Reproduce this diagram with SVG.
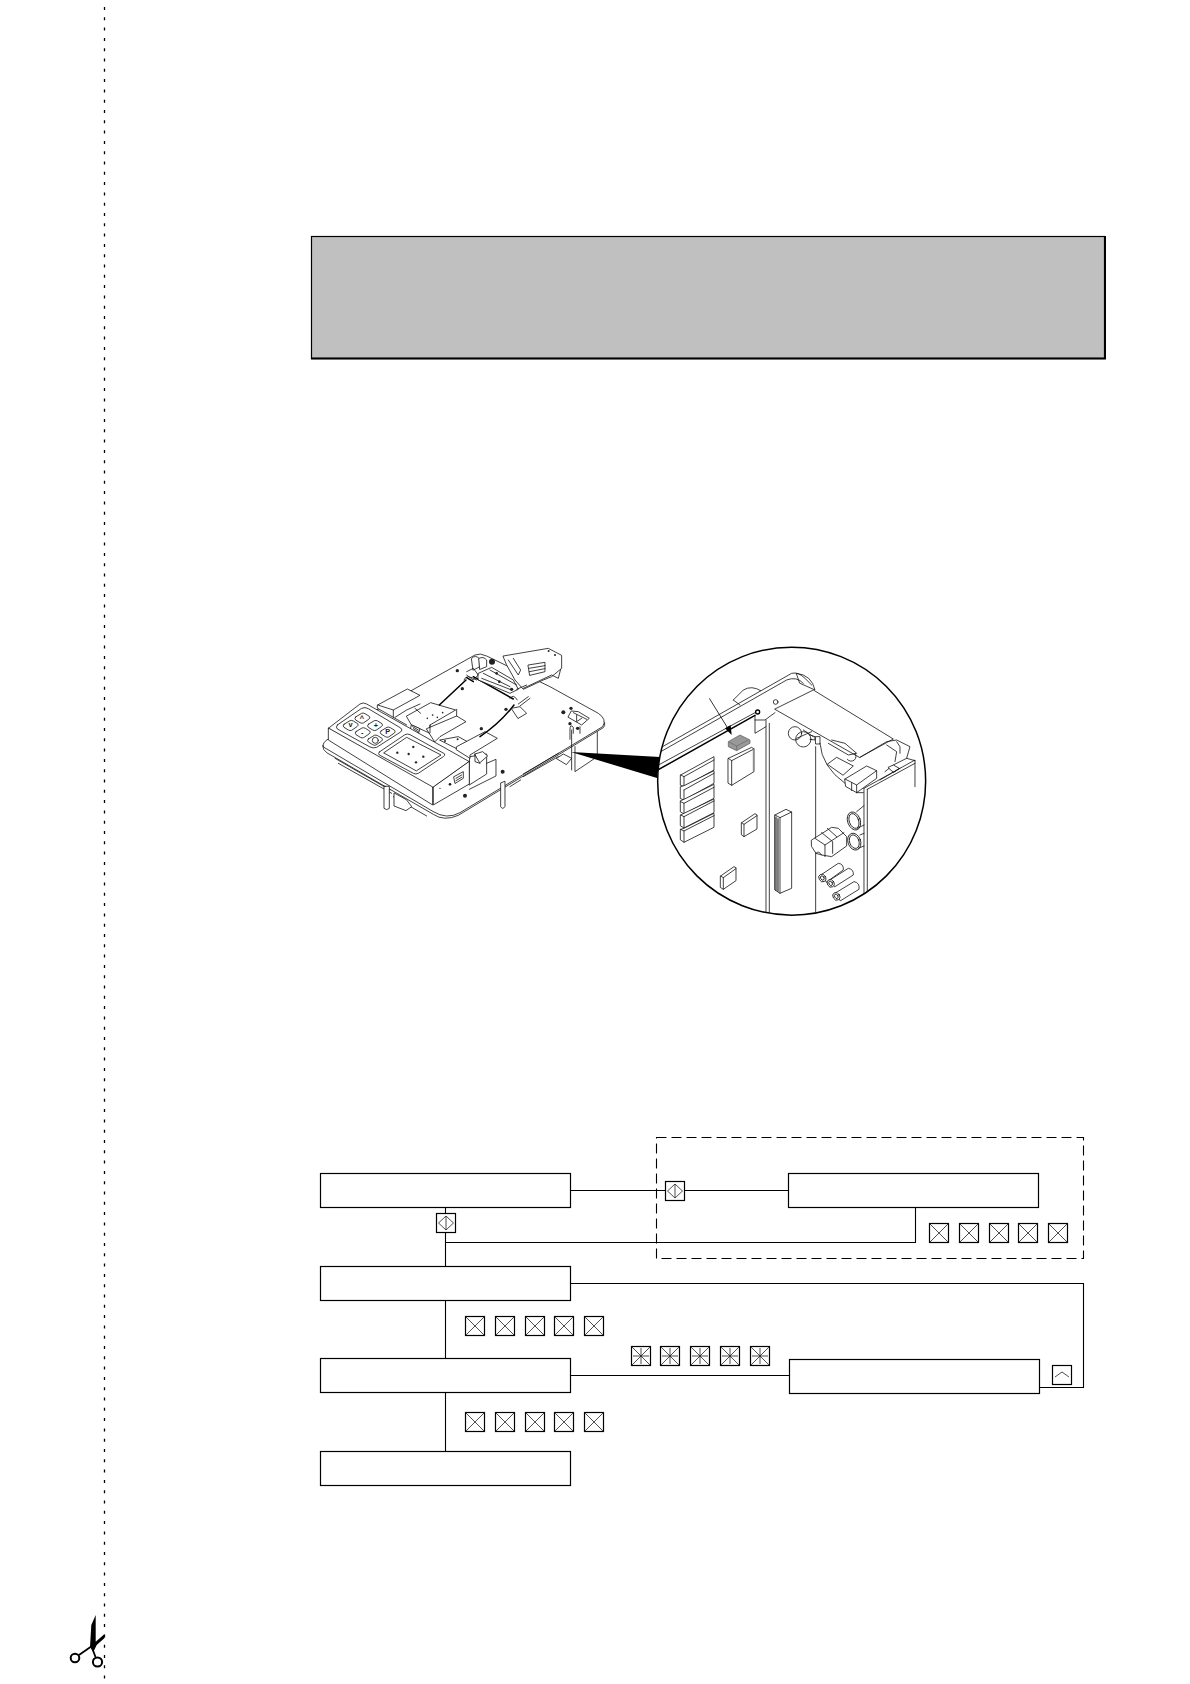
<svg xmlns="http://www.w3.org/2000/svg" width="1190" height="1684" viewBox="0 0 1190 1684">
<style>
.n{fill:#fff;stroke:#000;stroke-width:1.2}
.c{fill:none;stroke:#000;stroke-width:1.1}
.g{fill:none;stroke:#222;stroke-width:.8}
.m{fill:#fff;stroke:#111;stroke-width:2.4;stroke-linejoin:round;stroke-linecap:round}
.l{fill:none;stroke:#111;stroke-width:2.4;stroke-linejoin:round;stroke-linecap:round}
.h{fill:none;stroke:#000;stroke-width:4.5;stroke-linecap:round;stroke-linejoin:round}
.d{fill:#222}
.t{font-family:"Liberation Sans",Arial,sans-serif;font-size:22px;font-weight:bold;text-anchor:middle;fill:#222}
</style>
<defs>
<g id="x"><rect class="n" x=".5" y=".5" width="19" height="19"/><path class="g" d="M.5 .5L19.5 19.5M19.5 .5L.5 19.5"/></g>
<g id="s"><rect class="n" x=".5" y=".5" width="19" height="19"/><path class="g" d="M.5 .5L19.5 19.5M19.5 .5L.5 19.5M10 2V18M2 10H18"/></g>
<g id="v"><rect class="n" x=".5" y=".5" width="19" height="19"/><path class="g" d="M2.5 10L10 3L17.5 10L10 17ZM10 3V17"/></g>
</defs>
<path d="M104.5 7V1684" fill="none" stroke="#000" stroke-width="1.3" stroke-dasharray="3 7.3"/>
<g id="scissors">
<path d="M95.7 1615L91.3 1625L90 1647L93.3 1652L96.7 1645L104.3 1638.3V1634.3L95.7 1641.7Z" fill="#000"/>
<path d="M90.5 1647L79 1655M92.5 1649L95.5 1657" fill="none" stroke="#000" stroke-width="1.8"/>
<circle cx="75" cy="1658" r="4.3" fill="#fff" stroke="#000" stroke-width="2"/>
<circle cx="97.5" cy="1662" r="4.6" fill="#fff" stroke="#000" stroke-width="2"/>
</g>
<g id="notice"><rect x="311.5" y="236.5" width="793" height="122" fill="#c0c0c0" stroke="#000" stroke-width="1.2"/><path d="M311 358.5H1105V236" fill="none" stroke="#000" stroke-width="2"/></g>

<g id="machine" transform="translate(310 630) scale(.3333)">
<path class="m" d="M40 350Q36 338 55 327L200 240L495 75Q510 68 530 78L720 170L865 250Q892 268 878 290L450 548Q410 570 370 545Z"/>
<path class="l" d="M38 347Q38 360 50 368L370 553Q402 575 445 556L880 293Q886 288 884 278"/>
<path class="l" d="M75 385L240 480M85 400L245 490M250 500L350 558M640 432L745 370M600 470L632 450M640 440L745 380"/>
<path class="m" d="M222 470V535Q230 543 238 535V470Z"/>
<path class="m" d="M572 460V530Q578 540 585 530V455Z"/>
<path class="m" d="M252 490V528L288 542L305 530L290 510Z"/>
<path class="m" d="M740 385L760 372L785 385L770 403Z"/>
<path class="l" d="M785 300V420M795 350V425L862 380V305"/>
<path class="l" d="M780 328V300Q780 280 790 292V310M810 290V310"/>
<!-- rear boards -->
<path class="m" d="M203 225L292 177L330 196L250 240V262L203 235Z"/>
<path class="l" d="M250 240L203 225M255 262L290 240L330 222"/>
<path class="m" d="M290 258L362 218L437 240L360 285L360 310L305 285Z"/>
<path class="m" d="M350 296L440 258L468 275L390 320L375 335Z"/>
<path class="l" d="M250 262L290 285M315 235L332 250M360 285L360 308M440 258V238"/>
<circle class="d" cx="352" cy="265" r="2.5"/><circle class="d" cx="368" cy="255" r="2.5"/><circle class="d" cx="382" cy="262" r="2.5"/><circle class="d" cx="398" cy="248" r="2.5"/>
<path class="m" d="M480 380L530 372V432L478 465Z"/>
<path class="m" d="M495 372L518 365L533 378L510 398Z"/>
<path class="l" d="M495 372V395L510 400M530 400L558 388V438L478 478"/>
<path class="m" d="M390 330L445 320L472 335L440 355Z"/>
<path class="m" d="M440 350L525 305L562 325L480 375V385L440 360Z"/>
<path class="m" d="M305 285L330 296L325 312L302 300Z"/>
<path class="l" d="M308 290L325 300M310 296L326 306"/>
<!-- keypad housing -->
<path class="m" d="M55 295L150 222Q160 216 170 222L478 395L370 472Q362 474 355 470Z"/>
<path class="m" d="M55 295V330L368 525V472Z"/>
<path class="m" d="M370 472V525L478 462V395Z"/>
<path class="m" d="M82 285L155 235Q165 230 175 236L272 294Q280 300 272 306L200 352Q190 356 180 351L82 297Q76 291 82 285Z"/>
<g class="keys">
<path class="m" d="M137 261L155 250Q160 248 165 251L178 259Q182 264 176 268L160 279Q155 281 150 278L137 270Q132 266 137 261Z"/>
<path class="m" d="M175 283L193 272Q198 270 203 273L216 281Q220 286 214 290L198 301Q193 303 188 300L175 292Q170 288 175 283Z"/>
<path class="m" d="M213 303L231 292Q236 290 241 293L254 301Q258 306 252 310L236 321Q231 323 226 320L213 312Q208 308 213 303Z"/>
<path class="m" d="M102 283L120 272Q125 270 130 273L143 281Q147 286 141 290L125 301Q120 303 115 300L102 292Q97 288 102 283Z"/>
<path class="m" d="M138 305L156 294Q161 292 166 295L179 303Q183 308 177 312L161 323Q156 325 151 322L138 314Q133 310 138 305Z"/>
<path class="m" d="M175 327L193 316Q198 314 203 317L216 325Q220 330 214 334L198 345Q193 347 188 344L175 336Q170 332 175 327Z"/>
<circle class="l" cx="196" cy="331" r="9"/>
<text class="t" x="156" y="272">^</text><text class="t" x="198" y="293">+</text><text class="t" x="233" y="313">P</text><text class="t" x="122" y="292">v</text><text class="t" x="157" y="316">-</text>
</g>
<path class="m" d="M208 366L285 314Q292 310 300 314L403 371Q407 376 400 380L325 430Q318 434 310 430L208 375Q203 370 208 366Z"/>
<path class="l" d="M222 368L290 322L393 375L320 422Z"/>
<circle class="d" cx="262" cy="368" r="3.5"/><circle class="d" cx="310" cy="351" r="3.5"/><circle class="d" cx="296" cy="372" r="3.5"/><circle class="d" cx="340" cy="380" r="3.5"/><circle class="d" cx="318" cy="397" r="3.5"/>
<path class="h" d="M388 225L468 150M470 143L490 155M490 140L610 207M612 225Q570 280 510 320"/>
<path class="l" d="M462 150Q468 130 500 150M600 205Q610 190 622 210"/>
<!-- printer -->
<path class="m" d="M580 78L715 55L755 76V115L725 140L700 150L640 178L615 150L590 105Z"/>
<path class="l" d="M595 90L625 135L632 120L610 85M655 105L705 97V125L660 136ZM657 115L705 107M658 125L705 116M640 175L725 135L745 145L752 118"/>
<path class="m" d="M505 130L545 112L610 150L625 178L600 190L505 150Z"/>
<path class="l" d="M520 130L600 170M515 145L605 180M540 120L620 165"/>
<path class="m" d="M485 85Q497 72 510 88V110L490 120Z"/>
<path class="m" d="M507 85Q520 78 530 90V110L510 118Z"/>
<circle cx="546" cy="95" r="9" fill="#222"/>
<path class="l" d="M470 125L490 115L505 135L490 150L470 135M620 178L650 165M625 222L655 200M630 228L660 205"/>
<path class="m" d="M605 235L630 230L650 250L625 265Z"/>
<circle class="d" cx="560" cy="130" r="4"/><circle class="d" cx="568" cy="155" r="4"/><circle class="d" cx="605" cy="178" r="5"/><circle class="d" cx="716" cy="63" r="3"/><circle class="d" cx="735" cy="75" r="3"/>
<circle class="d" cx="442" cy="122" r="5"/><circle class="d" cx="457" cy="176" r="5"/><circle class="d" cx="588" cy="238" r="5"/><circle class="d" cx="514" cy="296" r="5"/><circle class="d" cx="405" cy="333" r="3"/><circle class="d" cx="443" cy="328" r="3"/><circle class="d" cx="578" cy="425" r="6"/><circle class="d" cx="465" cy="497" r="6"/><circle class="d" cx="420" cy="463" r="4"/><circle class="d" cx="390" cy="475" r="2"/><circle class="d" cx="760" cy="247" r="6"/><circle class="d" cx="783" cy="235" r="5"/><circle class="d" cx="780" cy="281" r="5"/><circle class="d" cx="803" cy="295" r="5"/>
<path class="l" d="M785 243L805 245L838 265L815 285L775 262ZM790 248L830 268M800 255V275L815 265"/>
<path class="l" d="M432 440L460 425V445L436 460ZM438 445L455 435M438 452L455 442"/>
</g>

<path id="pointer" d="M571 752L660 757L657 778Z" fill="#000"/>

<g id="detail" transform="translate(640 640) scale(.3333)">
<clipPath id="cc"><circle cx="455" cy="423.5" r="402"/></clipPath>
<circle cx="455" cy="423.5" r="402" fill="#fff"/>
<g clip-path="url(#cc)">
<path class="l" d="M280 180L310 150Q335 135 362 152"/>
<path class="l" d="M280 180L300 195"/>
<path class="m" d="M470 100Q515 105 525 150L480 130Z"/>
<path class="l" d="M50 330L455 100Q475 95 495 115L515 135"/>
<path class="l" d="M50 342L440 120Q470 108 490 130"/>
<path class="l" d="M50 378L345 218"/>
<path class="h" d="M50 392L345 226"/>
<path class="l" d="M345 226V280L378 260M345 240L375 240L405 218"/>
<circle cx="353" cy="216" r="6" fill="#fff" stroke="#000" stroke-width="4"/>
<circle cx="407" cy="186" r="7" class="l"/>
<path class="l" d="M378 240V820M388 250V820M527 320V815"/>
<path class="m" d="M405 207L520 150L760 297L660 352Z"/>
<path class="l" d="M660 352L740 305L770 300L810 320L800 355L760 375L735 395"/>
<path class="l" d="M740 315L770 335L765 365M800 355L825 362"/>
<path class="l" d="M770 305L780 320V340"/>
<circle class="l" cx="465" cy="280" r="20"/>
<circle class="l" cx="490" cy="298" r="23"/>
<path class="l" d="M490 270L520 290M470 295L515 275M510 285L525 290V300L510 298"/>
<path class="l" d="M527 290H540V312H528ZM540 310Q545 380 615 430"/>
<path class="l" d="M565 310L625 345L650 340L615 310L575 300M645 340A12 12 0 1 1 622 358"/>
<path class="m" d="M563 372L590 352L640 378L610 405Z"/>
<path class="m" d="M615 417L680 378L710 392V415L650 458L618 440Z"/>
<path class="l" d="M615 417L650 435V458M635 428V452M650 435L710 392M650 458H670"/>
<path class="m" d="M745 382L760 375L778 385L762 397Z"/>
<path class="l" d="M672 445V760M682 448V755M672 445L825 360V440M682 448L825 370M720 420L780 385"/>
<g id="chips">
<path class="m" d="M122 405L222 350V390L132 440L122 436Z"/><path class="l" d="M122 405L132 410L222 360M132 410V440"/>
<path class="m" d="M122 440L132 437L222 392V430L132 480L122 476Z"/><path class="l" d="M132 450L222 400M132 450V480"/>
<path class="m" d="M122 482L132 478L222 433V475L132 522L122 516Z"/><path class="l" d="M122 485L132 490L222 442M132 490V522"/>
<path class="m" d="M122 525L132 520L222 477V518L132 564L122 558Z"/><path class="l" d="M122 525L132 530L222 483M132 530V564"/>
<path class="m" d="M122 568L132 565L222 520V562L132 607L122 600Z"/><path class="l" d="M122 568L132 573L222 527M132 573V607"/>
</g>
<path class="m" d="M265 355L335 322L342 327V395L275 436L265 430Z"/><path class="l" d="M265 355L275 362L342 327M275 362V436"/><path d="M340 327V395" stroke="#888" stroke-width="3"/>
<path d="M265 305L300 285L330 300L330 310L290 332L265 320Z" fill="#999" stroke="#555" stroke-width="2"/><path d="M265 305L290 318L325 300M290 318V332" fill="none" stroke="#666" stroke-width="2"/>
<path d="M208 175L268 272" fill="none" stroke="#000" stroke-width="2.4"/><path d="M275 285L255 265L272 255Z" fill="#000"/>
<path class="m" d="M305 548L345 521L351 525V567L312 590L305 585Z"/><path class="l" d="M305 548L312 553L351 527M312 553V590"/>
<path class="m" d="M242 708L282 680L288 683V722L250 748L242 743Z"/><path class="l" d="M242 708L250 713L288 686M250 713V748"/>
<path class="m" d="M405 525L438 508L455 516V745L420 760L405 750Z"/><path class="l" d="M405 525L420 533L455 516M420 533V760"/>
<path fill="none" stroke="#000" stroke-width="3" d="M408 530V752M414 535V755"/>
<ellipse class="m" cx="642" cy="543" rx="19" ry="28" transform="rotate(-20 642 543)"/><ellipse class="l" cx="642" cy="543" rx="14" ry="23" transform="rotate(-20 642 543)"/>
<ellipse class="m" cx="643" cy="605" rx="19" ry="26" transform="rotate(-20 643 605)"/><ellipse class="l" cx="643" cy="605" rx="14" ry="21" transform="rotate(-20 643 605)"/>
<path class="l" d="M650 515L672 497M652 565L672 555M660 585L672 580M655 625L672 618"/>
<path class="m" d="M515 600L575 562L595 565L620 590L620 618L575 650L545 645L528 640L515 620Z"/>
<path class="l" d="M525 595L555 615V650M555 615L612 578M545 578L578 605V640M562 565L590 590M528 640Q535 630 545 645"/>
<path class="m" d="M547 702L595 670Q612 672 610 690L560 726Z"/><ellipse class="m" cx="547" cy="714" rx="10" ry="12" transform="rotate(-30 547 714)"/><ellipse class="l" cx="547" cy="714" rx="5" ry="7" transform="rotate(-30 547 714)"/>
<path class="m" d="M570 720L625 685Q642 688 640 705L585 740Z"/><ellipse class="m" cx="572" cy="730" rx="10" ry="12" transform="rotate(-30 572 730)"/><ellipse class="l" cx="572" cy="730" rx="5" ry="7" transform="rotate(-30 572 730)"/>
<path class="m" d="M588 758L642 725Q660 728 657 748L602 782Z"/><ellipse class="m" cx="589" cy="769" rx="10" ry="12" transform="rotate(-30 589 769)"/><ellipse class="l" cx="589" cy="769" rx="5" ry="7" transform="rotate(-30 589 769)"/>
</g>
<circle cx="455" cy="423.5" r="402" fill="none" stroke="#000" stroke-width="4.5"/>
</g>

<rect id="zone" x="656.5" y="1137.5" width="427" height="121" fill="none" stroke="#000" stroke-width="1.1" stroke-dasharray="10 5"/>
<g id="connectors">
<path class="c" d="M570.5 1190.5H788.5M445.5 1207.5V1266.5M445.5 1242.5H915.5V1207.5M570.5 1283.5H1083.5V1387.5H1039.5M445.5 1300.5V1358.5M445.5 1392.5V1451.5M570.5 1375.5H789.5"/>
</g>
<g id="box1"><rect class="n" x="320.5" y="1173.5" width="250" height="34"/></g>
<g id="box2"><rect class="n" x="320.5" y="1266.5" width="250" height="34"/></g>
<g id="box3"><rect class="n" x="320.5" y="1358.5" width="250" height="34"/></g>
<g id="box4"><rect class="n" x="320.5" y="1451.5" width="250" height="34"/></g>
<g id="box5"><rect class="n" x="788.5" y="1173.5" width="250" height="34"/></g>
<g id="box6"><rect class="n" x="789.5" y="1359.5" width="250" height="34"/></g>
<g id="valve1"><use href="#v" x="436" y="1213"/></g>
<g id="valve2"><use href="#v" x="665" y="1181"/></g>
<g id="up"><rect class="n" x="1052.5" y="1365.5" width="19" height="19"/><path class="g" d="M1055 1377L1062 1372L1069 1377"/></g>
<g id="row1"><use href="#x" x="929" y="1223"/><use href="#x" x="959" y="1223"/><use href="#x" x="989" y="1223"/><use href="#x" x="1018" y="1223"/><use href="#x" x="1048" y="1223"/></g>
<g id="row2"><use href="#x" x="465" y="1316"/><use href="#x" x="495" y="1316"/><use href="#x" x="525" y="1316"/><use href="#x" x="554" y="1316"/><use href="#x" x="584" y="1316"/></g>
<g id="row3"><use href="#x" x="465" y="1412"/><use href="#x" x="495" y="1412"/><use href="#x" x="525" y="1412"/><use href="#x" x="554" y="1412"/><use href="#x" x="584" y="1412"/></g>
<g id="row4"><use href="#s" x="631" y="1346"/><use href="#s" x="660" y="1346"/><use href="#s" x="690" y="1346"/><use href="#s" x="720" y="1346"/><use href="#s" x="750" y="1346"/></g>
</svg>
